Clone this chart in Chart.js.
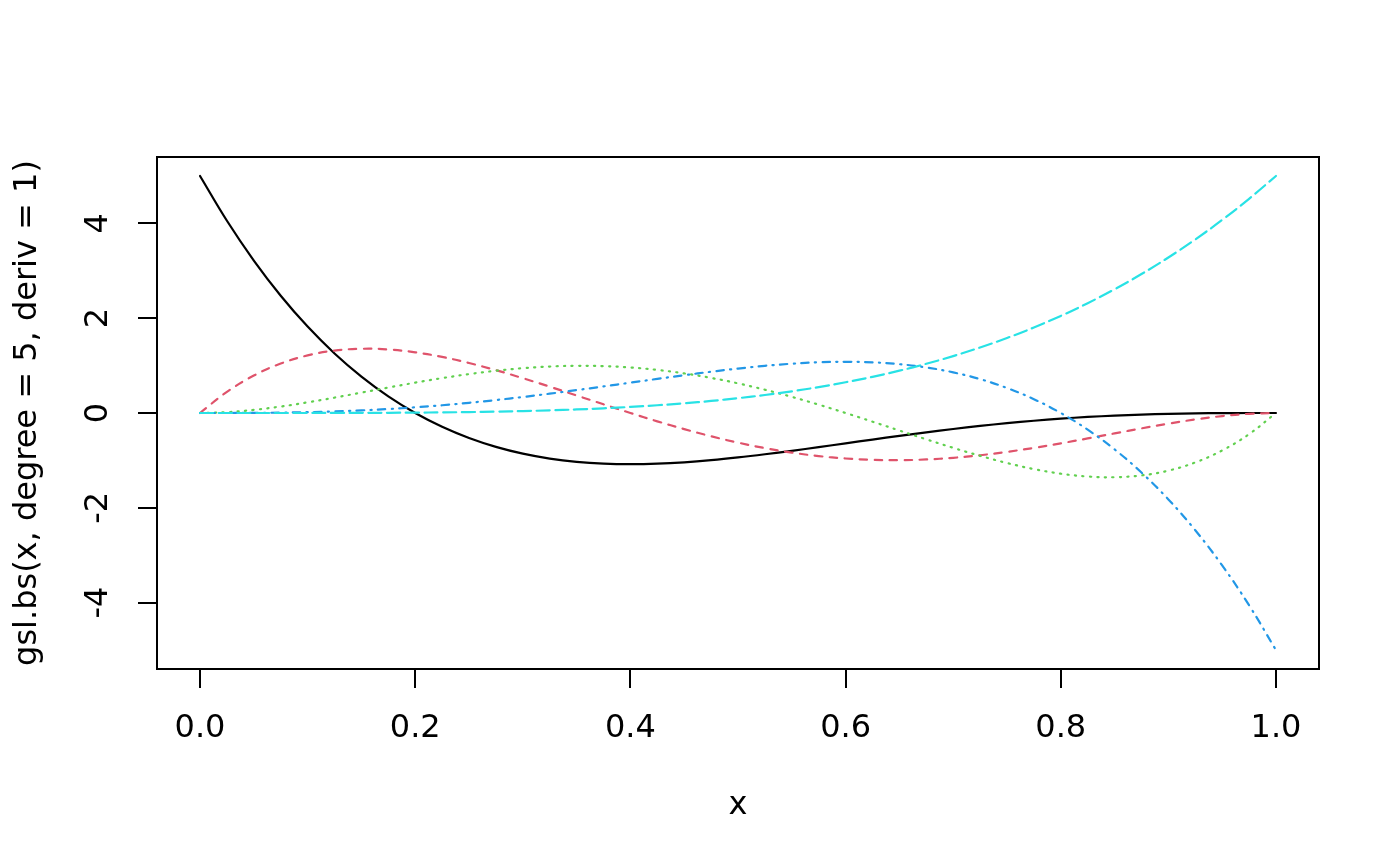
<!DOCTYPE html>
<html><head><meta charset="utf-8">
<script src="https://cdn.jsdelivr.net/npm/chart.js@4.4.1/dist/chart.umd.min.js"></script>
<style>html,body{margin:0;padding:0;background:#fff;}canvas{display:block;}</style>
</head><body>
<canvas id="c" width="1400" height="866"></canvas>
<script>
const xValues = [0,0.025,0.05,0.075,0.1,0.125,0.15,0.175,0.2,0.225,0.25,0.275,0.3,0.325,0.35,0.375,0.4,0.425,0.45,0.475,0.5,0.525,0.55,0.575,0.6,0.625,0.65,0.675,0.7,0.725,0.75,0.775,0.8,0.825,0.85,0.875,0.9,0.925,0.95,0.975,1];
const basis1 = [5,4.0550,3.2152,2.4733,1.8225,1.2561,0.7677,0.3509,0,-0.2909,-0.5273,-0.7145,-0.8575,-0.9611,-1.0298,-1.0681,-1.08,-1.0694,-1.0398,-0.9948,-0.9375,-0.8708,-0.7973,-0.7197,-0.64,-0.5603,-0.4823,-0.4076,-0.3375,-0.2730,-0.2148,-0.1637,-0.12,-0.0837,-0.0548,-0.0330,-0.0175,-0.0076,-0.0023,-0.0003,0];
const basis2 = [0,0.4456,0.7897,1.0428,1.215,1.3159,1.3547,1.3400,1.28,1.1825,1.0547,0.9034,0.735,0.5553,0.3697,0.1831,0,-0.1756,-0.3403,-0.4910,-0.625,-0.7403,-0.8353,-0.9088,-0.96,-0.9888,-0.9953,-0.9803,-0.945,-0.8910,-0.8203,-0.7356,-0.64,-0.5369,-0.4303,-0.3247,-0.225,-0.1366,-0.0653,-0.0175,0];
const basis3 = [0,0.0175,0.0653,0.1366,0.225,0.3247,0.4303,0.5369,0.64,0.7356,0.8203,0.8910,0.945,0.9803,0.9953,0.9888,0.96,0.9088,0.8353,0.7403,0.625,0.4910,0.3403,0.1756,0,-0.1831,-0.3697,-0.5553,-0.735,-0.9034,-1.0547,-1.1825,-1.28,-1.3400,-1.3547,-1.3159,-1.215,-1.0428,-0.7897,-0.4456,0];
const basis4 = [0,0.0003,0.0023,0.0076,0.0175,0.0330,0.0548,0.0837,0.12,0.1637,0.2148,0.2730,0.3375,0.4076,0.4823,0.5603,0.64,0.7197,0.7973,0.8708,0.9375,0.9948,1.0398,1.0694,1.08,1.0681,1.0298,0.9611,0.8575,0.7145,0.5273,0.2909,0,-0.3509,-0.7677,-1.2561,-1.8225,-2.4733,-3.2152,-4.0550,-5];
const basis5 = [0,0,0,0.0002,0.0005,0.0012,0.0025,0.0047,0.008,0.0128,0.0195,0.0286,0.0405,0.0558,0.075,0.0989,0.128,0.1631,0.205,0.2545,0.3125,0.3798,0.4575,0.5466,0.648,0.7629,0.8925,1.0380,1.2005,1.3814,1.582,1.8038,2.048,2.3163,2.61,2.9309,3.2805,3.6605,4.0725,4.5184,5];
const seriesNames = ['1','2','3','4','5'];
const xTicks = [0,0.2,0.4,0.6,0.8,1.0];
const yTicks = [-4,-2,0,2,4];
const xTitle = 'x';
const yTitle = 'gsl.bs(x, degree = 5, deriv = 1)';

const allSeries = [basis1, basis2, basis3, basis4, basis5];
const colors = ['#000000','#DF536B','#61D04F','#2297E6','#28E2E5'];
const dashes = [[], [7.5,7.5], [1.2,6.3], [1.2,6.3,7.5,6.3], [13.1,5.6]];
const FONT = 'DejaVu Sans';
const FS = 32;

const datasets = allSeries.map((s, i) => ({
  label: seriesNames[i],
  data: xValues.map((x, j) => ({x: x, y: s[j]})),
  borderColor: colors[i],
  borderWidth: 2.2,
  borderDash: dashes[i],
  borderCapStyle: 'round',
  borderJoinStyle: 'round',
  pointRadius: 0,
  fill: false,
  tension: 0.4,
  order: 5 - i
}));

const boxPlugin = {
  id: 'box',
  afterDraw(chart) {
    const {ctx, chartArea: a} = chart;
    ctx.save();
    ctx.strokeStyle = '#000';
    ctx.lineWidth = 2;
    ctx.strokeRect(a.left, a.top, a.right - a.left, a.bottom - a.top);
    ctx.restore();
  }
};

new Chart(document.getElementById('c'), {
  type: 'line',
  data: { datasets },
  plugins: [boxPlugin],
  options: {
    responsive: false,
    animation: false,
    devicePixelRatio: 1,
    layout: { padding: { top: 157, right: 81, left: 0, bottom: 0 } },
    plugins: { legend: { display: false }, tooltip: { enabled: false } },
    scales: {
      x: {
        type: 'linear', min: -0.04, max: 1.04,
        afterBuildTicks: s => { s.ticks = xTicks.map(v => ({value: v})); },
        afterFit: s => { s.height = 197; },
        grid: { display: true, drawOnChartArea: false, drawTicks: true, tickLength: 19, color: '#000', lineWidth: 2 },
        border: { display: false },
        ticks: { callback: v => Number(v).toFixed(1), font: { family: FONT, size: FS }, color: '#000', padding: 21, maxRotation: 0, autoSkip: false },
        title: { display: true, text: xTitle, font: { family: FONT, size: FS }, color: '#000', padding: { top: 0, bottom: 41 } }
      },
      y: {
        type: 'linear', min: -5.4, max: 5.4,
        afterBuildTicks: s => { s.ticks = yTicks.map(v => ({value: v})); },
        afterFit: s => { s.width = 157; },
        grid: { display: true, drawOnChartArea: false, drawTicks: true, tickLength: 19, color: '#000', lineWidth: 2 },
        border: { display: false },
        ticks: { callback: v => String(v), font: { family: FONT, size: FS }, color: '#000', padding: 23, minRotation: 90, maxRotation: 90, crossAlign: 'center', autoSkip: false },
        title: { display: true, text: yTitle, font: { family: FONT, size: FS }, color: '#000', padding: { top: 8, bottom: 0 } }
      }
    }
  }
});
</script>
</body></html>
